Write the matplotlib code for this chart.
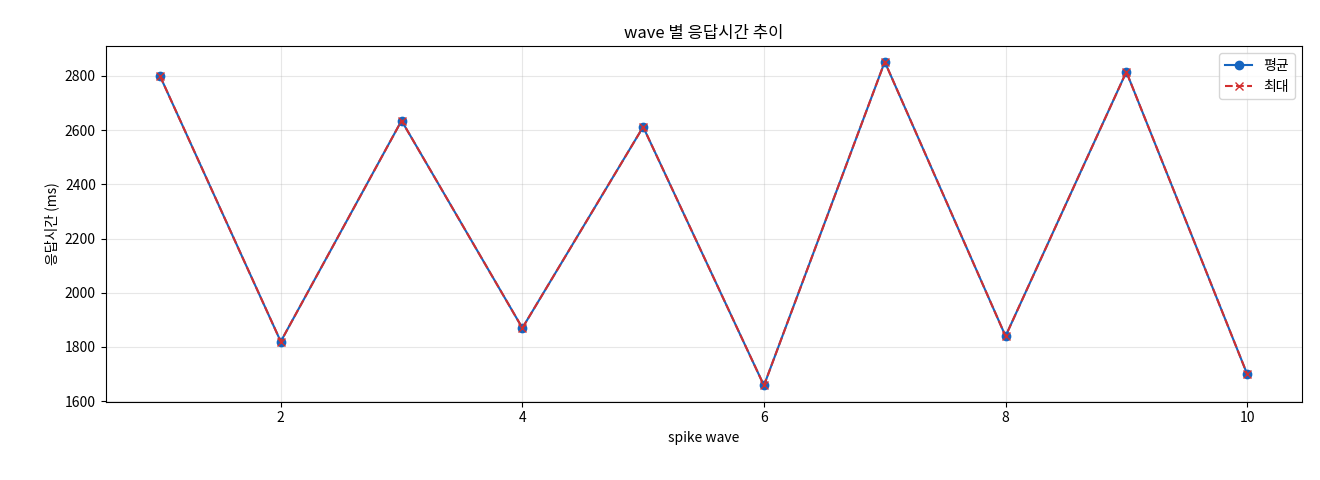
import matplotlib
matplotlib.use('Agg')
import matplotlib.pyplot as plt

plt.rcParams['font.family'] = ['Noto Sans CJK KR', 'DejaVu Sans']

waves = [1, 2, 3, 4, 5, 6, 7, 8, 9, 10]
avg_ms = [2800, 1820, 2635, 1870, 2612, 1658, 2852, 1840, 2815, 1700]
max_ms = [2800, 1820, 2635, 1870, 2612, 1658, 2852, 1840, 2815, 1700]

fig, ax = plt.subplots(figsize=(13.2, 4.8), dpi=100)
ax.plot(waves, avg_ms, marker='o', color='#1565c0', label='평균')
ax.plot(waves, max_ms, marker='x', linestyle='--', color='#d32f2f', label='최대')
ax.set_title('wave 별 응답시간 추이')
ax.set_xlabel('spike wave')
ax.set_ylabel('응답시간 (ms)')
ax.set_ylim(1598, 2910)
ax.grid(True, alpha=0.3)
ax.legend(loc='upper right')
fig.subplots_adjust(left=0.08, right=0.986, top=0.904, bottom=0.163)
fig.savefig('out.png')
